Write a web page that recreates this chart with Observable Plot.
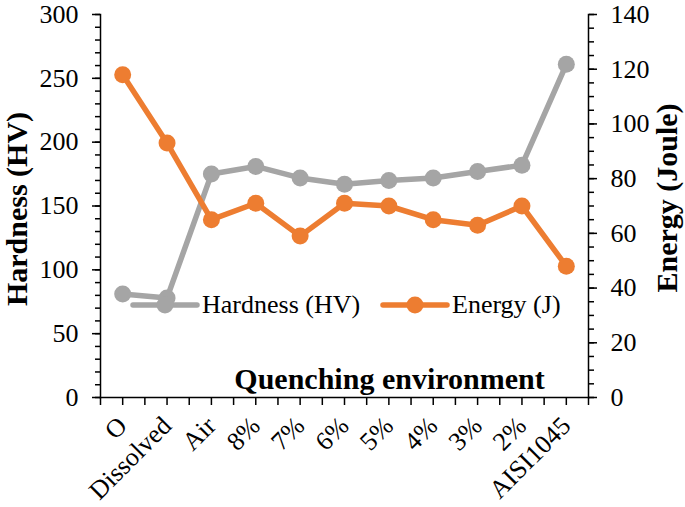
<!DOCTYPE html>
<html>
<head>
<meta charset="utf-8">
<script src="https://cdn.jsdelivr.net/npm/d3@7"></script>
<script src="https://cdn.jsdelivr.net/npm/@observablehq/plot@0.6"></script>
<style>
  body { margin: 0; background: #fff; }
  #wrap { position: relative; width: 685px; height: 507px; font-family: "Liberation Serif", "Times New Roman", serif; }
  #legend { position: absolute; left: 0; top: 0; width: 685px; height: 507px; pointer-events: none; }
</style>
</head>
<body>
<div id="wrap"></div>
<script>
const categories = ["O", "Dissolved", "Air", "8%", "7%", "6%", "5%", "4%", "3%", "2%", "AISI1045"];
const hardness = [81, 78, 175, 181, 172, 167, 170, 172, 177, 182, 261];
const energy = [118, 93, 65, 71, 59, 71, 70, 65, 63, 70, 48];
const hardnessTicks = [0, 50, 100, 150, 200, 250, 300];
const energyTicks = [0, 20, 40, 60, 80, 100, 120, 140];
const seriesNames = ["Hardness (HV)", "Energy (J)"];
const colors = ["#A5A5A5", "#ED7D31"];

const H_MAX = 300, E_MAX = 140;
const toH = e => e * H_MAX / E_MAX;
const data = categories.map((c, i) => ({i, c, h: hardness[i], e: toH(energy[i])}));

const font = "'Liberation Serif', 'Times New Roman', serif";

const plot = Plot.plot({
  width: 685,
  height: 507,
  marginTop: 14,
  marginLeft: 100,
  marginRight: 97,
  marginBottom: 110,
  style: {fontFamily: font, fontSize: "26px", color: "#000", background: "#fff"},
  x: {type: "linear", domain: [-0.5, categories.length - 0.5]},
  y: {domain: [0, H_MAX]},
  marks: [
    // minor ticks
    Plot.axisY({ticks: d3.range(0, H_MAX + 1, 10), tickSize: 5, text: null, label: null, strokeWidth: 1.5}),
    Plot.axisY({ticks: d3.range(0, E_MAX + 1, 5).map(toH), anchor: "right", tickSize: 5, text: null, label: null, strokeWidth: 1.5}),
    Plot.axisX({ticks: d3.range(-0.5, categories.length, 1), tickSize: 8, text: null, label: null, strokeWidth: 1.5}),
    // major ticks + labels
    Plot.axisY({ticks: hardnessTicks, tickSize: 8, tickPadding: 14, fontSize: 26, label: null, strokeWidth: 1.5}),
    Plot.axisY({ticks: energyTicks.map(toH), anchor: "right", tickSize: 8, tickPadding: 14, fontSize: 26, label: null,
      tickFormat: d => String(Math.round(d * E_MAX / H_MAX)), strokeWidth: 1.5}),
    Plot.axisX({ticks: d3.range(0, categories.length), tickSize: 8, tickRotate: -45, tickPadding: 16, fontSize: 26, label: null,
      tickFormat: i => categories[i], strokeWidth: 1.5}),
    Plot.frame({anchor: "left", strokeWidth: 1.5}),
    Plot.frame({anchor: "right", strokeWidth: 1.5}),
    Plot.frame({anchor: "bottom", strokeWidth: 1.5}),
    // series
    Plot.line(data, {x: "i", y: "h", stroke: colors[0], strokeWidth: 5.5}),
    Plot.dot(data, {x: "i", y: "h", r: 8.5, fill: colors[0]}),
    Plot.line(data, {x: "i", y: "e", stroke: colors[1], strokeWidth: 5.5}),
    Plot.dot(data, {x: "i", y: "e", r: 8.5, fill: colors[1]}),
    // axis titles
    Plot.text(["Hardness (HV)"], {frameAnchor: "left", textAnchor: "middle", dx: -83, dy: 3, rotate: -90, fontSize: 30, fontWeight: "bold"}),
    Plot.text(["Energy (Joule)"], {frameAnchor: "right", textAnchor: "middle", dx: 79, dy: -8, rotate: -90, fontSize: 30, fontWeight: "bold"}),
    Plot.text(["Quenching environment"], {frameAnchor: "bottom", dx: 45, dy: -9, lineAnchor: "bottom", fontSize: 30, fontWeight: "bold"})
  ]
});

const wrap = document.getElementById("wrap");
wrap.appendChild(plot);

// Legend overlay (inside plot area)
const ns = "http://www.w3.org/2000/svg";
const lg = document.createElementNS(ns, "svg");
lg.setAttribute("id", "legend");
lg.setAttribute("width", 685);
lg.setAttribute("height", 507);
const items = [{x: 133, tx: 202}, {x: 383, tx: 452}];
items.forEach((it, k) => {
  const line = document.createElementNS(ns, "line");
  line.setAttribute("x1", it.x); line.setAttribute("x2", it.x + 64);
  line.setAttribute("y1", 305); line.setAttribute("y2", 305);
  line.setAttribute("stroke", colors[k]); line.setAttribute("stroke-width", 5.5);
  line.setAttribute("stroke-linecap", "round");
  lg.appendChild(line);
  const c = document.createElementNS(ns, "circle");
  c.setAttribute("cx", it.x + 32); c.setAttribute("cy", 305); c.setAttribute("r", 8.5);
  c.setAttribute("fill", colors[k]);
  lg.appendChild(c);
  const t = document.createElementNS(ns, "text");
  t.setAttribute("x", it.tx); t.setAttribute("y", 313);
  t.setAttribute("font-family", font); t.setAttribute("font-size", 26);
  t.setAttribute("fill", "#000");
  t.textContent = seriesNames[k];
  lg.appendChild(t);
});
wrap.appendChild(lg);
</script>
</body>
</html>
